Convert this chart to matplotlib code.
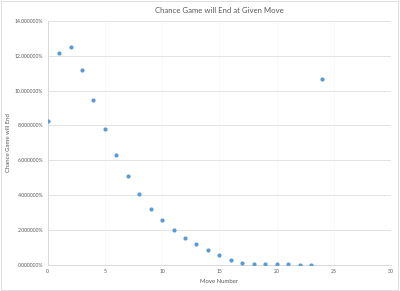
import matplotlib
matplotlib.use("Agg")
import matplotlib.pyplot as plt
from matplotlib.ticker import FuncFormatter, MultipleLocator
from matplotlib.patches import Rectangle

moves = list(range(25))
chance = [8.26, 12.16, 12.48, 11.20, 9.47, 7.79, 6.28, 5.07, 4.03, 3.21,
          2.54, 2.00, 1.54, 1.16, 0.83, 0.55, 0.28, 0.07, 0.02, 0.01,
          0.005, 0.002, 0.001, 0.0005, 10.64]

title = "Chance Game will End at Given Move"
xlabel = "Move Number"
ylabel = "Chance Game will End"

plt.rcParams['font.family'] = ['Lato', 'DejaVu Sans']

fig = plt.figure(figsize=(4.0, 2.91), dpi=100)
fig.patches.append(Rectangle((0.002, 0.002), 0.994, 0.994, transform=fig.transFigure,
                             fill=False, edgecolor='#d9d9d9', linewidth=0.6))
ax = fig.add_axes([0.119, 0.091, 0.859, 0.837])

ax.scatter(moves, chance, s=9, color='#5b9bd5', zorder=3, linewidths=0)

ax.set_xlim(0, 30)
ax.set_ylim(0, 14)
ax.xaxis.set_major_locator(MultipleLocator(5))
ax.yaxis.set_major_locator(MultipleLocator(2))
ax.yaxis.set_major_formatter(FuncFormatter(lambda v, p: f"{v:.6f}%"))

ax.grid(axis='y', color='#e3e3e3', linewidth=0.7)
ax.grid(axis='x', color='#f7f7f7', linewidth=0.5)
ax.set_axisbelow(True)
for s in ['top', 'right']:
    ax.spines[s].set_visible(False)
ax.spines['left'].set_color('#d9d9d9')
ax.spines['bottom'].set_color('#d9d9d9')
ax.spines['left'].set_linewidth(0.7)
ax.spines['bottom'].set_linewidth(0.7)
ax.tick_params(length=0, labelsize=3.7, colors='#595959', pad=3)

ax.set_title(title, fontsize=5.6, color='#595959', pad=6)
ax.set_xlabel(xlabel, fontsize=4.3, color='#595959', labelpad=4)
ax.set_ylabel(ylabel, fontsize=4.3, color='#595959', labelpad=3)

fig.savefig("out.png", dpi=100, facecolor='white')
